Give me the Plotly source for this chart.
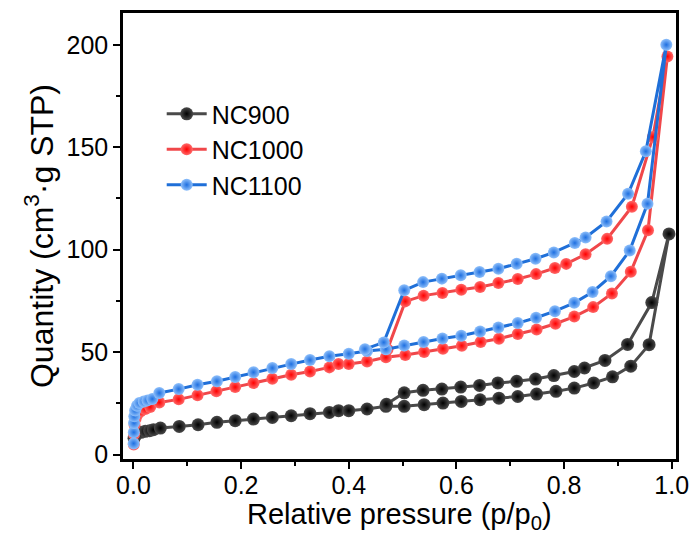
import plotly.graph_objects as go

# ---- data ----
nc900_ads_x = [0.001, 0.005, 0.014, 0.022, 0.030, 0.037, 0.050, 0.085, 0.120, 0.155, 0.189, 0.223, 0.258,
               0.293, 0.328, 0.364, 0.381, 0.400, 0.434, 0.469, 0.503, 0.540, 0.575, 0.609, 0.644, 0.679,
               0.714, 0.749, 0.785, 0.819, 0.855, 0.890, 0.924, 0.958, 0.995]
nc900_ads_y = [8.0, 9.8, 10.9, 11.4, 11.7, 12.2, 13.0, 13.8, 14.6, 15.8, 16.6, 17.4, 18.2,
               19.0, 20.0, 20.6, 21.5, 21.5, 22.3, 23.6, 23.6, 24.4, 25.2, 26.0, 26.8, 27.6,
               28.4, 29.6, 30.9, 32.5, 35.0, 38.0, 43.2, 53.7, 107.7]
nc900_des_x = [0.963, 0.918, 0.876, 0.838, 0.819, 0.781, 0.747, 0.712, 0.677, 0.643, 0.608, 0.573,
               0.538, 0.503, 0.470]
nc900_des_y = [74.2, 53.8, 46.0, 42.3, 40.6, 38.6, 36.9, 35.8, 35.0, 33.8, 33.0, 32.0,
               31.4, 30.2, 24.6]

nc1000_ads_x = [0.0005, 0.001, 0.002, 0.004, 0.007, 0.013, 0.022, 0.031, 0.048, 0.084, 0.119, 0.154,
                0.189, 0.223, 0.258, 0.293, 0.328, 0.364, 0.381, 0.400, 0.434, 0.469, 0.505, 0.540,
                0.575, 0.610, 0.645, 0.679, 0.714, 0.749, 0.784, 0.819, 0.854, 0.889, 0.924, 0.956, 0.992]
nc1000_ads_y = [5.0, 10.0, 14.5, 17.5, 19.5, 21.1, 22.3, 23.3, 25.5, 27.0, 29.0, 31.0,
                33.0, 35.0, 37.1, 39.0, 40.6, 42.6, 44.2, 44.2, 45.5, 47.5, 48.6, 50.1,
                51.7, 53.2, 55.0, 56.6, 58.9, 61.1, 63.9, 67.4, 72.0, 78.7, 89.3, 109.5, 194.3]
nc1000_des_x = [0.965, 0.926, 0.880, 0.840, 0.804, 0.783, 0.748, 0.714, 0.678, 0.644, 0.609, 0.574,
                0.539, 0.505, 0.472]
nc1000_des_y = [155.0, 121.0, 105.3, 97.8, 93.1, 91.1, 88.1, 85.7, 83.8, 81.8, 80.5, 78.9,
                77.6, 74.8, 51.5]

nc1100_ads_x = [0.0003, 0.0006, 0.001, 0.0015, 0.003, 0.0065, 0.011, 0.019, 0.026, 0.035, 0.048, 0.084,
                0.119, 0.155, 0.189, 0.223, 0.258, 0.293, 0.328, 0.364, 0.400, 0.434, 0.469, 0.503,
                0.539, 0.574, 0.609, 0.644, 0.678, 0.714, 0.748, 0.783, 0.819, 0.853, 0.887, 0.922,
                0.955, 0.990]
nc1100_ads_y = [5.5, 10.9, 15.5, 18.7, 21.6, 23.9, 25.2, 26.0, 26.5, 27.2, 30.1, 32.0,
                34.1, 35.8, 37.9, 40.2, 42.3, 44.2, 46.2, 48.0, 49.2, 50.6, 51.5, 53.3,
                55.0, 56.7, 58.0, 60.1, 62.1, 64.2, 66.8, 70.0, 74.1, 79.4, 87.1, 99.6,
                122.4, 200.0]
nc1100_des_x = [0.952, 0.919, 0.879, 0.840, 0.820, 0.781, 0.747, 0.712, 0.678, 0.643, 0.608, 0.573,
                0.538, 0.503, 0.465, 0.430]
nc1100_des_y = [148.0, 127.3, 113.8, 106.0, 103.3, 98.7, 95.6, 93.2, 90.7, 89.1, 87.5, 85.9,
                84.2, 80.2, 54.8, 51.5]

series_names = ["NC900", "NC1000", "NC1100"]
x_ticks = [0.0, 0.2, 0.4, 0.6, 0.8, 1.0]
y_ticks = [0, 50, 100, 150, 200]
x_title = "Relative pressure (p/p<sub>0</sub>)"
y_title = "Quantity (cm<sup>3</sup>·g STP)"

styles = [
    dict(line="#4a4a4a", ball="#000000", hi="#4a4a4a", size=13),
    dict(line="#f0474a", ball="#ff0000", hi="#ff6a6a", size=12),
    dict(line="#1f6fd8", ball="#1e6fe0", hi="#8fc0fb", size=12),
]
data = [
    (nc900_ads_x + nc900_des_x, nc900_ads_y + nc900_des_y),
    (nc1000_ads_x + nc1000_des_x, nc1000_ads_y + nc1000_des_y),
    (nc1100_ads_x + nc1100_des_x, nc1100_ads_y + nc1100_des_y),
]

FONT = "Liberation Sans"
fig = go.Figure()
for name, (xs, ys), st in zip(series_names, data, styles):
    fig.add_trace(go.Scatter(
        x=xs, y=ys, name=name, mode="lines+markers",
        line=dict(color=st["line"], width=3),
        marker=dict(size=st["size"], color=st["hi"], line=dict(width=0),
                    gradient=dict(type="radial", color=st["ball"])),
    ))

axis_common = dict(
    showline=True, linecolor="black", linewidth=2.5, mirror=True,
    ticks="outside", ticklen=7, tickwidth=2, tickcolor="black",
    showgrid=False, zeroline=False, automargin=False,
    tickfont=dict(family=FONT, size=25, color="black"),
)
fig.update_xaxes(
    range=[-0.0195, 1.008], tickvals=x_ticks, ticktext=[f"{v:.1f}" for v in x_ticks],
    ticklabelstandoff=-5,
    minor=dict(dtick=0.1, ticks="outside", ticklen=4, tickwidth=2, tickcolor="black"),
    **axis_common,
)
fig.update_yaxes(
    range=[-2.1, 215.5], tickvals=y_ticks,
    minor=dict(dtick=25, ticks="outside", ticklen=4, tickwidth=2, tickcolor="black"),
    title=dict(text=y_title, font=dict(family=FONT, size=32, color="black"), standoff=4),
    **axis_common,
)
fig.add_annotation(
    text=x_title, xref="paper", yref="paper", x=0.5, y=-0.1715,
    xanchor="center", yanchor="bottom", showarrow=False, borderpad=0,
    font=dict(family=FONT, size=29, color="black"),
)
fig.update_layout(
    width=694, height=537,
    margin=dict(l=123, r=18, t=13, b=78),
    paper_bgcolor="white", plot_bgcolor="white",
    showlegend=True,
    legend=dict(x=0.07, y=0.825, xanchor="left", yanchor="top",
                font=dict(family=FONT, size=25, color="black"),
                bgcolor="rgba(0,0,0,0)", itemwidth=40, tracegroupgap=0),
)
fig.write_html("out.html")
